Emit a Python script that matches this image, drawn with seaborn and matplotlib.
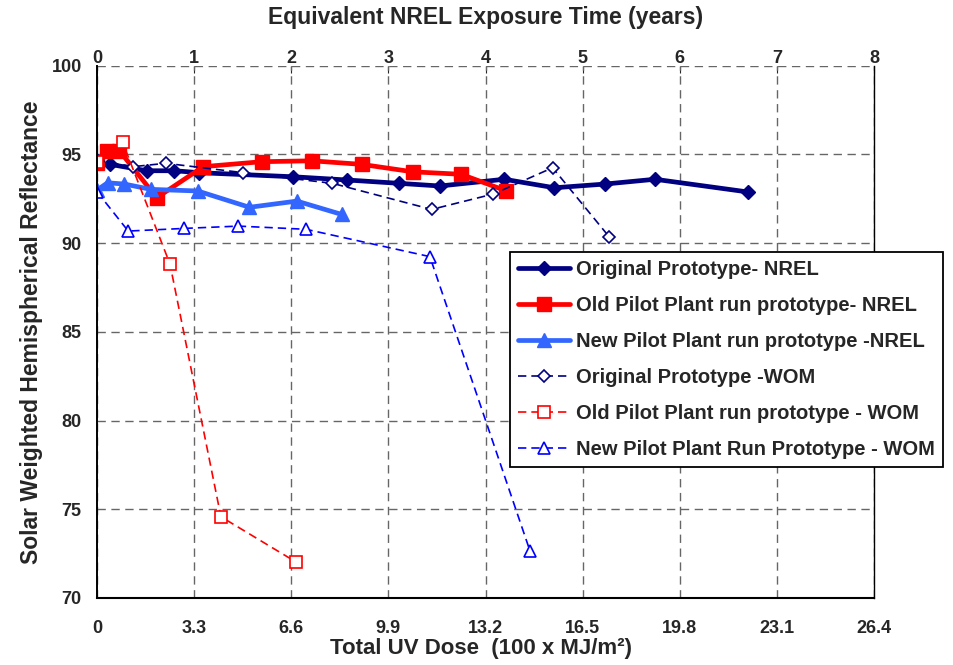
import matplotlib
matplotlib.use("Agg")
import matplotlib.pyplot as plt
import seaborn as sns
import numpy as np

# ---- data ----
orig_nrel_x = [0.44, 1.69, 2.63, 3.48, 6.67, 8.48, 10.27, 11.65, 13.84, 15.54, 17.26, 18.96, 22.13]
orig_nrel_y = [94.44, 94.08, 94.08, 93.97, 93.74, 93.56, 93.37, 93.22, 93.6, 93.12, 93.33, 93.6, 92.88]

old_nrel_x = [0.0, 0.33, 0.76, 2.03, 3.61, 5.6, 7.3, 8.99, 10.73, 12.37, 13.9]
old_nrel_y = [94.5, 95.21, 95.21, 92.56, 94.31, 94.59, 94.64, 94.44, 94.02, 93.88, 92.95]

new_nrel_x = [0.0, 0.36, 0.93, 1.83, 3.42, 5.18, 6.79, 8.31]
new_nrel_y = [92.99, 93.4, 93.33, 93.03, 92.94, 92.02, 92.37, 91.62]

orig_wom_x = [0.0, 1.23, 2.34, 4.97, 8.0, 11.37, 13.47, 15.48, 17.4]
orig_wom_y = [94.68, 94.31, 94.5, 93.97, 93.37, 91.9, 92.77, 94.25, 90.36]

old_wom_x = [0.0, 0.87, 2.48, 4.21, 6.75]
old_wom_y = [94.6, 95.68, 88.82, 74.58, 72.04]

new_wom_x = [0.0, 1.06, 2.97, 4.8, 7.1, 11.31, 14.71]
new_wom_y = [92.9, 90.68, 90.83, 90.96, 90.78, 89.24, 72.66]

labels = ["Original Prototype- NREL",
          "Old Pilot Plant run prototype- NREL",
          "New Pilot Plant run prototype -NREL",
          "Original Prototype -WOM",
          "Old Pilot Plant run prototype - WOM",
          "New Pilot Plant Run Prototype - WOM"]

x_ticks = [0, 3.3, 6.6, 9.9, 13.2, 16.5, 19.8, 23.1, 26.4]
x_ticklabels = ["0", "3.3", "6.6", "9.9", "13.2", "16.5", "19.8", "23.1", "26.4"]
y_ticks = [70, 75, 80, 85, 90, 95, 100]
year_ticks = [0, 1, 2, 3, 4, 5, 6, 7, 8]

# ---- style ----
sns.set_style("white")
plt.rcParams['font.family'] = ['Liberation Sans', 'DejaVu Sans']
plt.rcParams['font.weight'] = 'bold'

fig = plt.figure(figsize=(9.54, 6.65), dpi=100)
ax = fig.add_axes([97/954, 1-598/665, (874-97)/954, (598-65.7)/665])

dash = (0, (5, 3))
series = [
    (orig_nrel_x, orig_nrel_y, "#000080", "D", 7, "solid", 3.4, True),
    (old_nrel_x, old_nrel_y, "#FF0000", "s", 10, "solid", 3.4, True),
    (new_nrel_x, new_nrel_y, "#3366FF", "^", 10, "solid", 3.4, True),
    (orig_wom_x, orig_wom_y, "#000080", "D", 6, dash, 1.2, False),
    (old_wom_x, old_wom_y, "#FF0000", "s", 8, dash, 1.2, False),
    (new_wom_x, new_wom_y, "#0000FF", "^", 9, dash, 1.2, False),
]
for (xs, ys, col, mk, ms, ls, lw, filled), lab in zip(series, labels):
    kw = dict(marker=mk, markersize=ms, linewidth=lw, color=col,
              markeredgecolor=col, linestyle=ls)
    if filled:
        kw["markerfacecolor"] = col
        kw["markeredgewidth"] = 1
    else:
        kw["markerfacecolor"] = "white"
        kw["markeredgewidth"] = 1.2
    sns.lineplot(x=xs, y=ys, ax=ax, sort=False, label=lab, **kw)

ax.set_xlim(0, 26.4)
ax.set_ylim(70, 100)
ax.set_xticks(x_ticks)
ax.set_xticklabels(x_ticklabels)
ax.set_yticks(y_ticks)
ax.grid(True, linestyle=(0, (6, 4)), color="#666666", linewidth=1.0)
for sp in ax.spines.values():
    sp.set_color("black")
ax.spines['left'].set_linewidth(1.4)
ax.spines['bottom'].set_linewidth(1.5)
ax.spines['right'].set_linewidth(1.0)
ax.spines['top'].set_visible(False)
ax.tick_params(axis='both', labelsize=13, length=5, width=1, color='black', direction='out')
ax.tick_params(axis='x', pad=11)
ax.tick_params(axis='y', pad=6)
for t in ax.get_xticklabels() + ax.get_yticklabels():
    t.set_fontweight('bold')

ax.set_xlabel("Total UV Dose  (100 x MJ/m²)", fontsize=16, fontweight='bold', va='top')
ax.xaxis.set_label_coords(0.4936, -0.0744)
ax.set_ylabel("Solar Weighted Hemispherical Reflectance", fontsize=16.5, fontweight='bold')
ax.yaxis.set_label_coords(-0.07, 0.5)

sec = ax.secondary_xaxis('top', functions=(lambda v: v / 3.3, lambda v: v * 3.3))
sec.set_xticks(year_ticks)
sec.tick_params(labelsize=13, length=5, direction='in', pad=-1)
sec.spines['top'].set_visible(False)
for t in sec.get_xticklabels():
    t.set_fontweight('bold')
sec.set_xlabel("Equivalent NREL Exposure Time (years)", fontsize=16.5, fontweight='bold', labelpad=19)

leg = ax.legend(loc='upper left', bbox_to_anchor=(510/954, 1-252/665),
                bbox_transform=fig.transFigure, fontsize=14.5, frameon=True,
                fancybox=False, framealpha=1, edgecolor='black', borderaxespad=0,
                handlelength=2.6, labelspacing=0.84, borderpad=0.4, handletextpad=0.3)
leg.get_frame().set_linewidth(1.3)
for t in leg.get_texts():
    t.set_fontweight('bold')

fig.savefig("out.png", dpi=100)
